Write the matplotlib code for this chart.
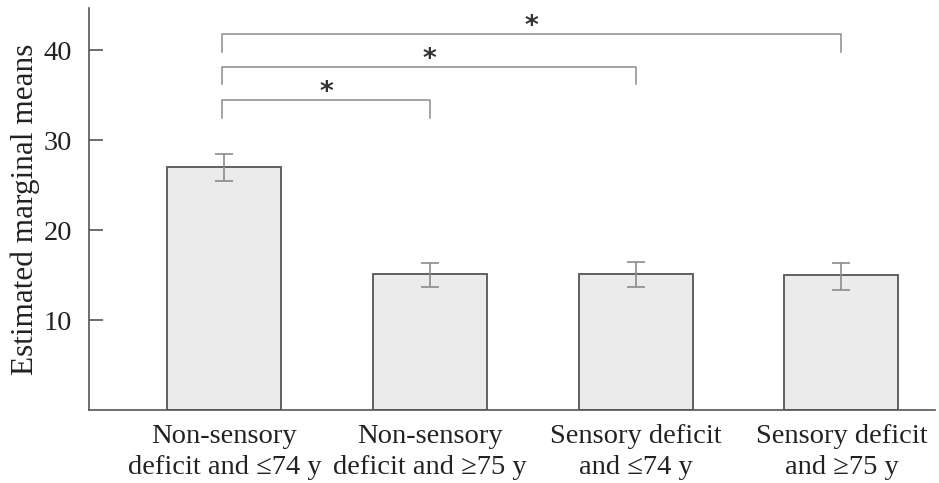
import numpy as np
import matplotlib.pyplot as plt

# data
groups = ["Non-sensory\ndeficit and \u226474 y", "Non-sensory\ndeficit and \u226575 y",
          "Sensory deficit\nand \u226474 y", "Sensory deficit\nand \u226575 y"]
means = [26.97, 15.11, 15.15, 15.0]
ci_low = [25.48, 13.63, 13.63, 13.3]
ci_high = [28.44, 16.37, 16.41, 16.37]
yticks = [10, 20, 30, 40]

# significance brackets: (from group, to group, top, leg bottom)
pairs = [(0, 1), (0, 2), (0, 3)]
bracket_top = [34.5, 38.1, 41.8]
bracket_bot = [32.5, 36.2, 39.8]
stars = ["*", "*", "*"]

plt.rcParams['font.family'] = ['Liberation Serif', 'DejaVu Serif']

fig = plt.figure(figsize=(9.39, 4.83), dpi=100)
ax = fig.add_axes([89/939, 1 - 410/483, 1 - 93/939, 402/483])

x = np.arange(len(groups))
means = np.array(means)
err = [means - np.array(ci_low), np.array(ci_high) - means]

ax.bar(x, means, width=0.555, color="#ebebeb", edgecolor="#555555", linewidth=1.3)
ax.errorbar(x, means, yerr=err, fmt="none", ecolor="#8c8c8c", elinewidth=1.2,
            capsize=6.4, capthick=1.2)

for (a, b), top, bot, s in zip(pairs, bracket_top, bracket_bot, stars):
    ax.plot([a - 0.01, a - 0.01, b, b], [bot, top, top, bot],
            color="#8c8c8c", lw=1.1)
    ax.text((a + b) / 2 - 0.005, top + 0.75, s, ha="center", va="center",
            fontsize=19, fontweight="bold", color="#333333", family=["DejaVu Sans"])

ax.set_xlim(-0.658, 3.455)
ax.set_ylim(0, 44.67)
ax.set_yticks(yticks)
ax.set_xticks(x)
ax.set_xticklabels(groups, fontsize=20.5, color="#222222", linespacing=1.3)
ax.tick_params(axis="y", direction="in", length=10, width=1.2, color="#555555",
               labelsize=20.5, labelcolor="#222222", pad=12)
ax.tick_params(axis="x", length=0, pad=10)
ax.set_ylabel("Estimated marginal means", fontsize=22.5, color="#222222", labelpad=3)

for side in ["top", "right"]:
    ax.spines[side].set_visible(False)
for side in ["left", "bottom"]:
    ax.spines[side].set_color("#555555")
    ax.spines[side].set_linewidth(1.2)

fig.savefig("out.png", dpi=100)
